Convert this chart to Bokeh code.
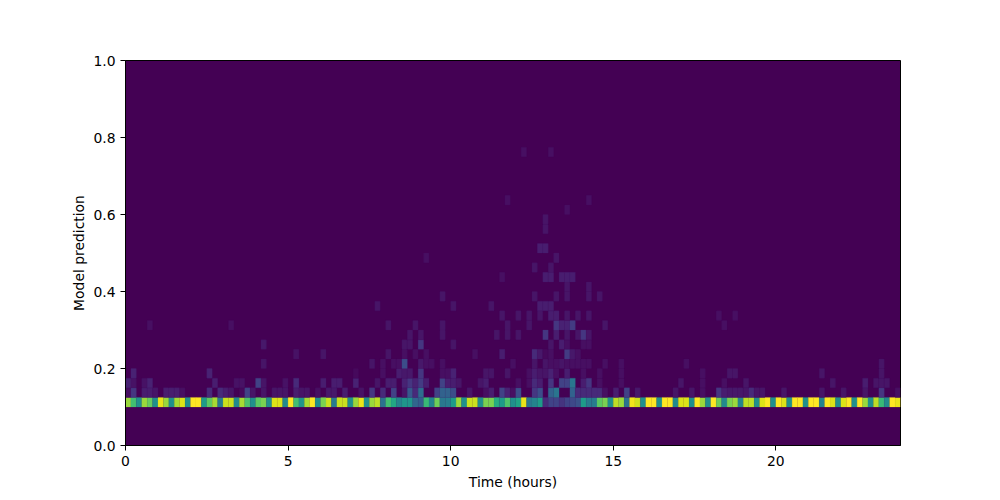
from bokeh.embed import file_html
from bokeh.resources import INLINE
from bokeh.models import ColumnDataSource, FixedTicker, NumeralTickFormatter, Range1d
from bokeh.palettes import Viridis256
from bokeh.plotting import figure

BIN_HOURS = 1 / 6
BIN_PRED = 0.025
X_MAX = 23.8333
X_TICKS = [0, 5, 10, 15, 20]
Y_TICKS = [0.0, 0.2, 0.4, 0.6, 0.8, 1.0]
X_LABEL = "Time (hours)"
Y_LABEL = "Model prediction"
UPPER_GAIN = 0.78

# row 4 (prediction 0.100-0.125): one share per 10-minute bin
band = [
    .85, .70, .50, .85, .77, .50, .97, .85, .50, .87, .95, .50, 1, 1, .55, .75, .87, .42,
    .92, .92, .48, .87, .72, .50, .75, .80, .50, .95, .95, .47, 1, .70, .52, .87, 1, .50,
    .80, .92, .42, .92, .92, .50, .85, .97, .50, .85, .90, .38, .70, .60, .45, .52, .52, .33,
    .30, .68, .45, .78, .40, .42, .55, .85, .50, .92, .92, .50, .80, .80, .62, .55, .72, .50,
    .58, .97, .40, .45, .55, .12, .20, .20, .15, .20, .22, .25, .55, .42, .42, .75, .80, .50,
    .90, .85, .38, .98, .93, .50, 1, 1, .50, 1, 1, .48, .95, .95, .50, 1, .85, .50,
    1, .78, .48, .80, .85, .45, .90, .90, .50, .95, 1, .50, 1, .95, .50, 1, 1, .50,
    1, 1, .45, 1, .95, .50, .95, 1, .50, 1, .85, .50, .90, .68, .48, 1, .97,
]

# rows above the band: {10-minute bin: share}
row5 = {0: .05, 1: .2, 3: .1, 4: .1, 5: .07, 7: .1, 8: .1, 9: .1, 10: .05, 15: .15, 17: .15, 18: .1,
        19: .07, 21: .03, 22: .25, 23: .07, 25: .07, 27: .07, 28: .07, 29: .07, 31: .1, 32: .07, 33: .07,
        35: .05, 37: .08, 38: .08, 40: .1, 43: .06, 45: .2, 47: .15, 49: .25, 51: .07, 52: .35, 53: .15,
        54: .45, 57: .25, 58: .4, 59: .4, 60: .3, 63: .07, 66: .05, 67: .1, 69: .25, 70: .12, 71: .05, 72: .3,
        75: .2, 76: .3, 78: .4, 79: .5, 82: .4, 83: .15, 84: .15, 85: .15, 86: .15, 87: .15, 88: .05, 90: .1,
        92: .25, 94: .08, 101: .07, 104: .07, 106: .05, 109: .2, 110: .1, 111: .08, 112: .08, 113: .08,
        114: .07, 115: .15, 116: .07, 117: .07, 121: .07, 128: .07, 132: .07, 136: .07, 139: .2, 142: .05}
row6 = {0: .12, 1: .06, 3: .06, 4: .12, 16: .1, 20: .06, 21: .06, 24: .25, 25: .07, 29: .06, 31: .15,
        36: .1, 38: .1, 39: .1, 42: .12, 46: .07, 48: .1, 49: .1, 51: .12, 52: .2, 53: .12, 54: .22, 55: .1,
        58: .25, 59: .1, 60: .1, 61: .07, 65: .07, 66: .1, 72: .05, 74: .05, 75: .15, 76: .1, 78: .2, 80: .25,
        81: .25, 82: .5, 84: .1, 85: .2, 87: .05, 91: .05, 102: .07, 106: .05, 110: .05, 114: .07, 130: .07,
        136: .1, 138: .07, 139: .07, 140: .07}
row7 = {1: .12, 15: .12, 42: .03, 47: .05, 50: .1, 51: .08, 52: .08, 54: .2, 58: .05, 59: .05, 60: .12,
        66: .07, 67: .07, 70: .07, 74: .05, 75: .1, 76: .07, 77: .07, 78: .12, 79: .05, 81: .1, 84: .05,
        87: .05, 91: .05, 106: .05, 111: .07, 112: .07, 128: .07, 139: .07}
row8 = {25: .07, 45: .07, 47: .05, 49: .05, 50: .05, 51: .3, 54: .08, 55: .05, 56: .05, 58: .05, 71: .05,
        75: .07, 77: .07, 78: .05, 79: .05, 80: .07, 81: .05, 82: .05, 83: .05, 84: .05, 85: .05, 88: .05,
        91: .05, 103: .05, 139: .07}
row9 = {31: .06, 36: .07, 48: .07, 51: .05, 53: .05, 55: .05, 64: .05, 69: .1, 75: .15, 76: .08, 77: .03,
        78: .05, 81: .22, 82: .08, 83: .05}
row10 = {25: .08, 51: .07, 52: .07, 54: .2, 60: .07, 78: .07, 80: .1, 81: .05, 84: .05, 85: .05}
row11 = {52: .07, 54: .07, 58: .07, 68: .07, 70: .07, 72: .07, 77: .2, 79: .1, 81: .07, 83: .07, 84: .2, 85: .07}
row12 = {4: .05, 19: .05, 48: .07, 53: .07, 58: .07, 70: .07, 74: .07, 79: .2, 80: .12, 81: .12, 82: .22,
         88: .07, 110: .05}
row13 = {69: .07, 72: .07, 74: .07, 76: .07, 78: .1, 79: .1, 81: .07, 83: .07, 85: .07, 109: .05, 112: .05}
row14 = {46: .07, 60: .07, 67: .07, 76: .1, 77: .1, 78: .1}
row15 = {58: .07, 75: .07, 79: .07, 81: .07, 85: .07, 87: .07}
row16 = {81: .07, 85: .07}
row17 = {69: .05, 77: .1, 78: .1, 80: .1, 81: .1, 82: .1}
row18 = {75: .07, 78: .07}
row19 = {55: .05, 79: .07}
row20 = {76: .1, 77: .1}
row22 = {77: .07}
row23 = {77: .07}
row24 = {81: .05}
row25 = {70: .05, 85: .05}
row30 = {73: .05, 78: .05}

upper_rows = {5: row5, 6: row6, 7: row7, 8: row8, 9: row9, 10: row10, 11: row11, 12: row12, 13: row13,
              14: row14, 15: row15, 16: row16, 17: row17, 18: row18, 19: row19, 20: row20, 22: row22,
              23: row23, 24: row24, 25: row25, 30: row30}


def viridis(share):
    return Viridis256[min(255, int(round(share * 255)))]


cells = [(k, 4, v) for k, v in enumerate(band)]
for r, row in upper_rows.items():
    cells.extend((k, r, v * UPPER_GAIN) for k, v in row.items())

source = ColumnDataSource(dict(
    left=[c[0] * BIN_HOURS for c in cells],
    right=[(c[0] + 1) * BIN_HOURS for c in cells],
    bottom=[c[1] * BIN_PRED for c in cells],
    top=[(c[1] + 1) * BIN_PRED for c in cells],
    color=[viridis(c[2]) for c in cells],
))

p = figure(
    width=1000, height=500, frame_width=775, frame_height=385,
    min_border_left=125, min_border_right=100, min_border_top=60, min_border_bottom=55,
    x_range=Range1d(0, X_MAX), y_range=Range1d(0, 1),
    output_backend="svg", toolbar_location=None,
    background_fill_color=Viridis256[0], border_fill_color="white",
)
p.quad(left="left", right="right", bottom="bottom", top="top", source=source,
       fill_color="color", line_color="color", line_width=0.2)

p.grid.visible = False
p.outline_line_color = "black"
p.outline_line_width = 1
p.xaxis.ticker = FixedTicker(ticks=X_TICKS)
p.yaxis.ticker = FixedTicker(ticks=Y_TICKS)
p.yaxis.formatter = NumeralTickFormatter(format="0.0")
p.xaxis.axis_label = X_LABEL
p.yaxis.axis_label = Y_LABEL
for ax in (p.xaxis[0], p.yaxis[0]):
    ax.axis_line_color = "black"
    ax.axis_line_width = 1
    ax.major_tick_line_color = "black"
    ax.major_tick_line_width = 1
    ax.major_tick_out = 5
    ax.major_tick_in = 0
    ax.minor_tick_line_color = None
    ax.major_label_text_font = "DejaVu Sans"
    ax.major_label_text_font_size = "13.9px"
    ax.major_label_text_color = "black"
    ax.major_label_standoff = 5
    ax.axis_label_text_font = "DejaVu Sans"
    ax.axis_label_text_font_size = "13.9px"
    ax.axis_label_text_font_style = "normal"
    ax.axis_label_text_color = "black"
p.xaxis[0].axis_label_standoff = 5
p.yaxis[0].axis_label_standoff = 3
p.yaxis[0].major_label_orientation = "horizontal"

open("out.html", "w").write(file_html(p, INLINE))
